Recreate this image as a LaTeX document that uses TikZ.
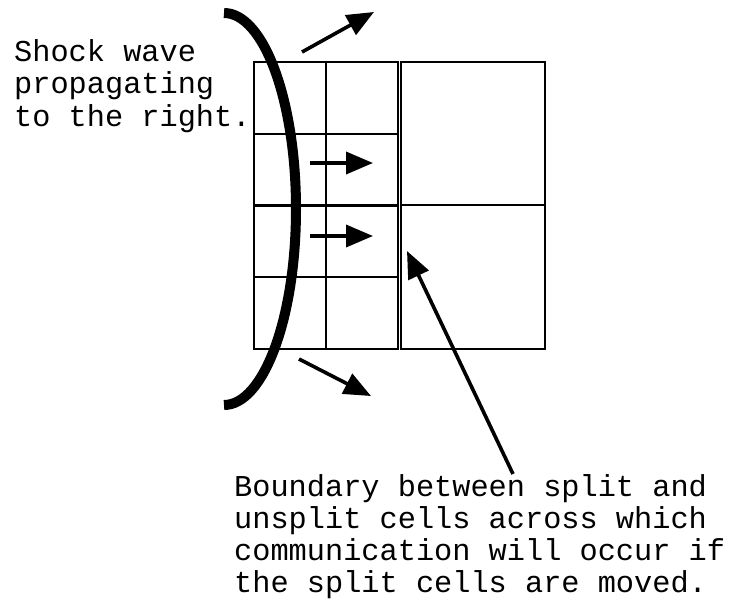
\documentclass[tikz,border=0pt]{standalone}
\usepackage{fontspec}
\setmonofont{Liberation Mono}
\usetikzlibrary{arrows.meta}
\begin{document}
\begin{tikzpicture}[x=1pt,y=-1pt,
  cell/.style={draw=black,line width=1.9pt},
  arr/.style={line width=3.6pt,-{Triangle[length=27pt,width=22pt]}},
  lbl/.style={anchor=base west,inner sep=0pt,font=\ttfamily\fontsize{30.3}{32}\selectfont}]
\useasboundingbox (0,0) rectangle (740,606);
% small cells
\foreach \c/\x in {0/254,1/326}{
  \foreach \r/\y in {0/62,1/134,2/205,3/277}{
    \draw[cell] (\x,\y) rectangle ++(72,72);
  }
}
% large cells
\draw[cell] (401,62) rectangle (545,205);
\draw[cell] (401,205) rectangle (545,349);
% shock wave
\draw[line width=10pt] (224,13) arc[start angle=-90,end angle=90,x radius=72,y radius=196];
% arrows
\coordinate (t1) at (302,52); \coordinate (t2) at (374,12);
\coordinate (b1) at (299,359); \coordinate (b2) at (371,396);
\coordinate (m1) at (310,163); \coordinate (m2) at (373,163);
\coordinate (n1) at (310,236); \coordinate (n2) at (373,236);
\coordinate (l1) at (513,474); \coordinate (l2) at (407,251);
\draw[arr] (t1) -- (t2);
\draw[arr] (b1) -- (b2);
\draw[arr] (m1) -- (m2);
\draw[arr] (n1) -- (n2);
\draw[arr] (l1) -- (l2);
% texts
\node[lbl] (s1) at (14,61) {Shock wave};
\node[lbl] (s2) at (14,93) {propagating};
\node[lbl] (s3) at (14,126) {to the right.};
\node[lbl] (c1) at (234,496) {Boundary between split and};
\node[lbl] (c2) at (234,528) {unsplit cells across which};
\node[lbl] (c3) at (234,560) {communication will occur if};
\node[lbl] (c4) at (234,592) {the split cells are moved.};
\end{tikzpicture}
\end{document}
